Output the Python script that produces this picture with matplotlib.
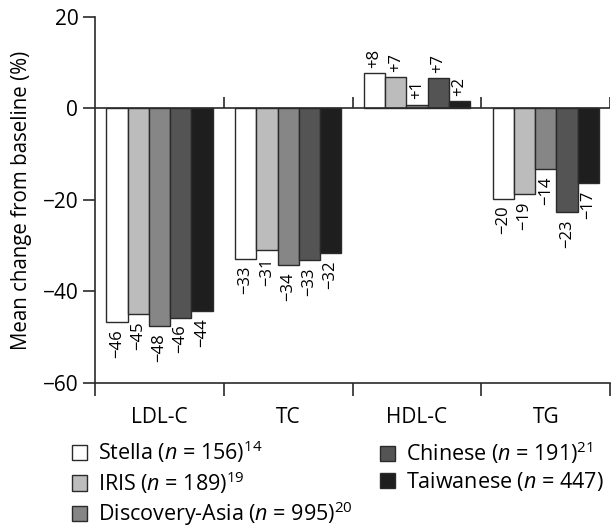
import matplotlib
matplotlib.use("Agg")
import matplotlib.pyplot as plt
import numpy as np
from matplotlib.patches import Patch

plt.rcParams['font.family'] = ['Open Sans', 'DejaVu Sans']
plt.rcParams['mathtext.fontset'] = 'custom'
plt.rcParams['mathtext.rm'] = 'Open Sans'
plt.rcParams['mathtext.it'] = 'Open Sans:italic'

categories = ["LDL-C", "TC", "HDL-C", "TG"]
series_names = ["Stella ($n$ = 156)$^{14}$", "IRIS ($n$ = 189)$^{19}$",
                "Discovery-Asia ($n$ = 995)$^{20}$", "Chinese ($n$ = 191)$^{21}$",
                "Taiwanese ($n$ = 447)"]
stella = [-46.7, -32.9, 7.7, -19.7]
iris = [-45.0, -31.0, 6.8, -18.8]
discovery = [-47.6, -34.3, 0.8, -13.3]
chinese = [-45.7, -33.2, 6.6, -22.7]
taiwanese = [-44.3, -31.7, 1.6, -16.4]
labels_stella = ["−46", "−33", "+8", "−20"]
labels_iris = ["−45", "−31", "+7", "−19"]
labels_discovery = ["−48", "−34", "+1", "−14"]
labels_chinese = ["−46", "−33", "+7", "−23"]
labels_taiwanese = ["−44", "−32", "+2", "−17"]

series = [stella, iris, discovery, chinese, taiwanese]
labels = [labels_stella, labels_iris, labels_discovery, labels_chinese, labels_taiwanese]
colors = ["#ffffff", "#bcbcbc", "#868686", "#545454", "#1e1e1e"]
edge = "#2a2a2a"

fig = plt.figure(figsize=(6.11, 5.29), dpi=100)
ax = fig.add_axes([0.1555, 0.276, 0.843, 0.692])

x = np.arange(len(categories))
w = 0.165
for i, (vals, labs, c) in enumerate(zip(series, labels, colors)):
    pos = x + (i - 2) * w
    ax.bar(pos, vals, width=w, color=c, edgecolor=edge, linewidth=1.0, zorder=3)
    for p, v, t in zip(pos, vals, labs):
        if v < 0:
            ax.annotate(t, (p, v), xytext=(0, -5), textcoords='offset points',
                        rotation=90, ha='center', va='top', fontsize=12)
        else:
            ax.annotate(t, (p, v), xytext=(0, 4), textcoords='offset points',
                        rotation=90, ha='center', va='bottom', fontsize=12)

ax.set_xlim(-0.5, len(categories) - 0.5)
ax.set_ylim(-60, 20)
ax.axhline(0, color=edge, lw=1.2, zorder=4)
bounds = np.arange(len(categories) + 1) - 0.5
ax.vlines(bounds[1:], 0, 2.6, color=edge, lw=1.2, zorder=4)

ax.set_xticks(x)
ax.set_xticklabels(categories, fontsize=15)
ax.tick_params(axis='x', which='major', length=0, pad=17)
ax.set_xticks(bounds, minor=True)
ax.tick_params(axis='x', which='minor', length=9, width=1.2, color=edge, direction='out')
ax.set_yticks([20, 0, -20, -40, -60])
ax.tick_params(axis='y', length=9, width=1.2, color=edge, labelsize=15, pad=3)
ax.set_ylabel("Mean change from baseline (%)", fontsize=14.8)
ax.yaxis.set_label_coords(-0.122, 0.5)

for s in ['top', 'right']:
    ax.spines[s].set_visible(False)
for s in ['left', 'bottom']:
    ax.spines[s].set_color(edge)
    ax.spines[s].set_linewidth(1.2)

handles = [Patch(facecolor=c, edgecolor=edge, linewidth=1.0) for c in colors]
common = dict(loc='upper left', frameon=False, fontsize=15.5,
              handlelength=0.7, handleheight=0.7, handletextpad=0.5,
              borderaxespad=0, borderpad=0)
leg1 = fig.legend(handles[:3], series_names[:3], bbox_to_anchor=(0.118, 0.172),
                  labelspacing=0.2, **common)
leg2 = fig.legend(handles[3:], series_names[3:], bbox_to_anchor=(0.622, 0.170),
                  labelspacing=0.2, **common)

fig.savefig("out.png", dpi=100)
